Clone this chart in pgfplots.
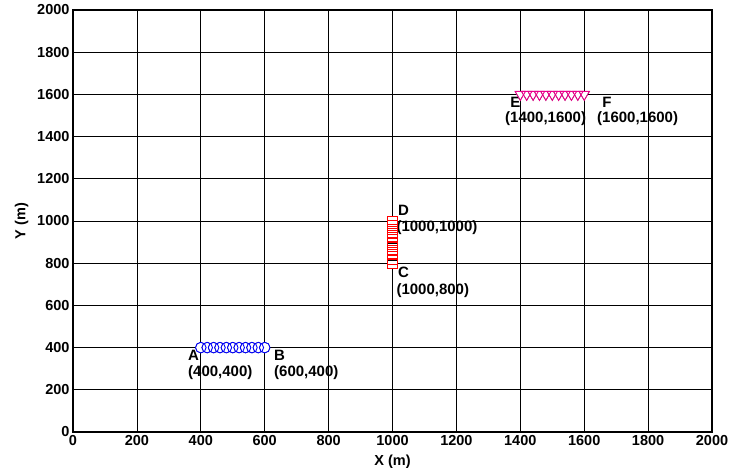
\documentclass[border=0pt]{standalone}
\usepackage{fontspec}
\setmainfont{Liberation Sans}
\usepackage{pgfplots}
\pgfplotsset{compat=1.18}
\pgfplotstableread{
x y
400 400
420 400
440 400
460 400
480 400
500 400
520 400
540 400
560 400
580 400
600 400
}\tabAB
\pgfplotstableread{
x y
1000 800
1000 820
1000 840
1000 860
1000 880
1000 900
1000 920
1000 940
1000 960
1000 980
1000 1000
}\tabCD
\pgfplotstableread{
x y
1400 1600
1420 1600
1440 1600
1460 1600
1480 1600
1500 1600
1520 1600
1540 1600
1560 1600
1580 1600
1600 1600
}\tabEF
\begin{document}
\begin{tikzpicture}
\begin{axis}[
  scale only axis, width=639pt, height=422pt,
  xmin=0, xmax=2000, ymin=0, ymax=2000,
  xtick={0,200,...,2000}, ytick={0,200,...,2000},
  grid=major, major grid style={black, line width=0.7pt},
  axis line style={black, line width=1.4pt},
  tick style={draw=none},
  /pgf/number format/assume math mode=true,
  /pgf/number format/set thousands separator={},
  ticklabel style={font=\fontsize{14.5}{16}\selectfont\bfseries},
  label style={font=\fontsize{14.5}{16}\selectfont\bfseries},
  xlabel={X (m)}, ylabel={Y (m)},
  xlabel style={yshift=-2pt}, ylabel style={yshift=2pt},
  clip=false,
]
% white backgrounds
\addplot[only marks, mark=*, mark size=5.3pt, mark options={draw=none, fill=white}] table {\tabAB};
\addplot[only marks, mark=square*, mark size=5pt, mark options={draw=none, fill=white}] table {\tabCD};
\addplot[only marks, mark=triangle*, mark size=6pt, mark options={draw=none, rotate=180, fill=white}] table {\tabEF};
% outlines
\addplot[only marks, mark=o, mark size=5.3pt, blue, mark options={line width=0.9pt}] table {\tabAB};
\addplot[only marks, mark=square, mark size=5pt, red, mark options={line width=0.9pt}] table {\tabCD};
\addplot[only marks, mark=triangle, mark size=6pt, magenta, mark options={rotate=180, line width=0.9pt}] table {\tabEF};
\begin{scope}[every node/.style={font=\fontsize{15}{17}\selectfont\bfseries, anchor=west, inner sep=0pt}]
\node at (axis cs:360,365) {A};
\node at (axis cs:360,280) {(400,400)};
\node at (axis cs:629,365) {B};
\node at (axis cs:629,280) {(600,400)};
\node at (axis cs:1017,758) {C};
\node at (axis cs:1012,668) {(1000,800)};
\node at (axis cs:1017,1052) {D};
\node at (axis cs:1012,970) {(1000,1000)};
\node at (axis cs:1368,1564) {E};
\node at (axis cs:1352,1483) {(1400,1600)};
\node at (axis cs:1656,1564) {F};
\node at (axis cs:1640,1483) {(1600,1600)};
\end{scope}
\end{axis}
\pgfresetboundingbox
\path[use as bounding box] ([xshift=-73pt,yshift=-43pt]current axis.south west) rectangle ([xshift=17pt,yshift=10pt]current axis.north east);
\end{tikzpicture}
\end{document}
